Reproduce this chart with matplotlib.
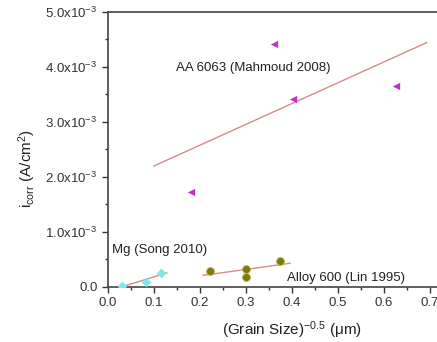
import numpy as np
import matplotlib
matplotlib.use("Agg")
import matplotlib.pyplot as plt
from matplotlib.ticker import MultipleLocator

plt.rcParams["font.family"] = ["Liberation Sans", "DejaVu Sans"]
plt.rcParams["mathtext.fontset"] = "custom"
plt.rcParams["mathtext.rm"] = "Liberation Sans"
plt.rcParams["mathtext.it"] = "Liberation Sans:italic"

# data: x = (grain size)^-0.5, y = i_corr in units of 1e-3 A/cm2
aa_x = [0.180, 0.361, 0.402, 0.626]
aa_y = [1.73, 4.42, 3.42, 3.65]
aa_fit_range = [0.10, 0.693]

mg_x = [0.030, 0.082, 0.115]
mg_y = [0.02, 0.09, 0.25]
mg_fit_range = [0.022, 0.128]

alloy_x = [0.222, 0.300, 0.300, 0.374]
alloy_y = [0.29, 0.33, 0.18, 0.47]
alloy_fit_range = [0.207, 0.396]

y_ticks = [0, 1, 2, 3, 4, 5]
y_labels = ["0.0"] + [r"%d.0x10$^{-3}$" % v for v in y_ticks[1:]]
x_ticks = [0.0, 0.1, 0.2, 0.3, 0.4, 0.5, 0.6, 0.7]

fit_color = "#d98a8a"

fig = plt.figure(figsize=(4.37, 3.42), dpi=100)
ax = fig.add_axes([0.247, 0.161, 0.842, 0.804])


def draw_series(x, y, rng, **kw):
    ax.scatter(x, y, zorder=3, **kw)
    k, b = np.polyfit(x, y, 1)
    xs = np.array(rng)
    ax.plot(xs, k * xs + b, color=fit_color, lw=1.0, zorder=2)


draw_series(aa_x, aa_y, aa_fit_range, marker="<", s=28, color="#c030d0", linewidths=0)
draw_series(mg_x, mg_y, mg_fit_range, marker="D", s=24, color="#80e8e8", linewidths=0)
draw_series(alloy_x, alloy_y, alloy_fit_range, marker="o", s=32, color="#7a7a12",
            edgecolors="#b8b840", linewidths=0.6)

ax.text(0.148, 3.98, "AA 6063 (Mahmoud 2008)", fontsize=9.5, va="center", color="#222222")
ax.text(0.008, 0.68, "Mg (Song 2010)", fontsize=9.5, va="center", color="#222222")
ax.text(0.390, 0.17, "Alloy 600 (Lin 1995)", fontsize=9.5, va="center", color="#222222")

ax.set_xlim(0, 0.8)
ax.set_ylim(0, 5)
ax.set_xticks(x_ticks)
ax.set_xticklabels(["%.1f" % v for v in x_ticks])
ax.set_yticks(y_ticks)
ax.set_yticklabels(y_labels)
ax.xaxis.set_minor_locator(MultipleLocator(0.05))
ax.yaxis.set_minor_locator(MultipleLocator(0.5))
ax.tick_params(which="major", direction="out", length=4, width=1, labelsize=9.5, colors="#333333")
ax.tick_params(which="minor", direction="out", length=2.5, width=1, colors="#333333")

ax.spines["right"].set_visible(False)
for side in ["left", "bottom", "top"]:
    ax.spines[side].set_color("#444444")
    ax.spines[side].set_linewidth(1.2)

ax.set_xlabel(r"(Grain Size)$^{-0.5}$ (μm)", fontsize=11, color="#222222", labelpad=7)
ax.set_ylabel(r"i$_\mathrm{corr}$ (A/cm$^2$)", fontsize=11, color="#222222", labelpad=4)
ax.yaxis.set_label_coords(-0.19, 0.43)

fig.savefig("out.png", dpi=100)
